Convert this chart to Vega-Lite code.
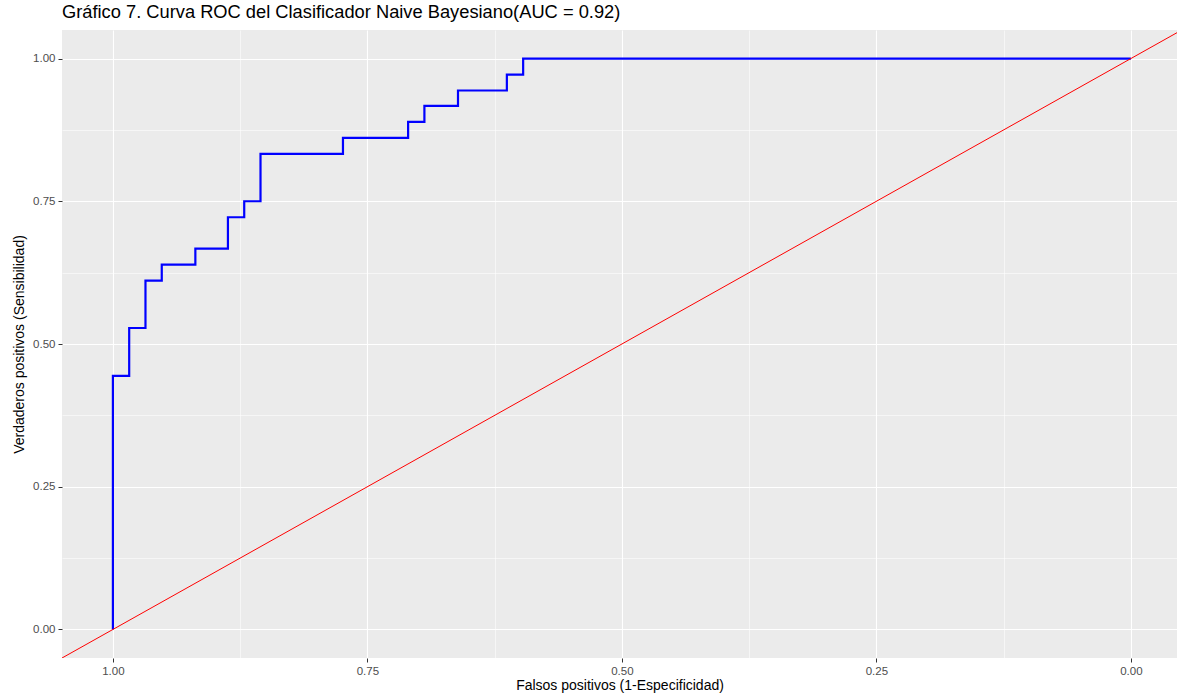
{
  "$schema": "https://vega.github.io/schema/vega-lite/v6.json",
  "autosize": {"type": "none"},
  "width": 1115,
  "height": 628,
  "padding": {"left": 62, "top": 30, "right": 0, "bottom": 40},
  "background": "white",
  "title": {
    "text": "Gráfico 7. Curva ROC del Clasificador Naive Bayesiano(AUC = 0.92)",
    "anchor": "start",
    "frame": "group",
    "font": "Liberation Sans",
    "fontSize": 18.3,
    "fontWeight": "normal",
    "color": "black",
    "offset": 8
  },
  "config": {
    "view": {"fill": "#EBEBEB", "stroke": null},
    "axis": {
      "domain": false,
      "labelFont": "Liberation Sans",
      "titleFont": "Liberation Sans",
      "labelFontSize": 11.5,
      "labelColor": "#4D4D4D",
      "titleFontSize": 14,
      "titleFontWeight": "normal",
      "titleColor": "black",
      "gridColor": "white",
      "tickColor": {"condition": {"test": "datum.value*4 == floor(datum.value*4)", "value": "#333333"}, "value": "transparent"},
      "gridWidth": {"condition": {"test": "datum.value*4 == floor(datum.value*4)", "value": 1.1}, "value": 0.55},
      "tickSize": 4,
      "labelPadding": 3
    }
  },
  "datasets": {
    "roc": [
      {"spec": 1.0, "sens": 0.0, "ord": 1},
      {"spec": 1.0, "sens": 0.444, "ord": 2},
      {"spec": 0.984, "sens": 0.444, "ord": 3},
      {"spec": 0.984, "sens": 0.528, "ord": 4},
      {"spec": 0.968, "sens": 0.528, "ord": 5},
      {"spec": 0.968, "sens": 0.611, "ord": 6},
      {"spec": 0.952, "sens": 0.611, "ord": 7},
      {"spec": 0.952, "sens": 0.639, "ord": 8},
      {"spec": 0.919, "sens": 0.639, "ord": 9},
      {"spec": 0.919, "sens": 0.667, "ord": 10},
      {"spec": 0.887, "sens": 0.667, "ord": 11},
      {"spec": 0.887, "sens": 0.722, "ord": 12},
      {"spec": 0.871, "sens": 0.722, "ord": 13},
      {"spec": 0.871, "sens": 0.75, "ord": 14},
      {"spec": 0.855, "sens": 0.75, "ord": 15},
      {"spec": 0.855, "sens": 0.833, "ord": 16},
      {"spec": 0.774, "sens": 0.833, "ord": 17},
      {"spec": 0.774, "sens": 0.861, "ord": 18},
      {"spec": 0.71, "sens": 0.861, "ord": 19},
      {"spec": 0.71, "sens": 0.889, "ord": 20},
      {"spec": 0.694, "sens": 0.889, "ord": 21},
      {"spec": 0.694, "sens": 0.917, "ord": 22},
      {"spec": 0.661, "sens": 0.917, "ord": 23},
      {"spec": 0.661, "sens": 0.944, "ord": 24},
      {"spec": 0.613, "sens": 0.944, "ord": 25},
      {"spec": 0.613, "sens": 0.972, "ord": 26},
      {"spec": 0.597, "sens": 0.972, "ord": 27},
      {"spec": 0.597, "sens": 1.0, "ord": 28},
      {"spec": 0.0, "sens": 1.0, "ord": 29}
    ],
    "diag": [
      {"spec": 1.05, "sens": -0.05, "ord": 1},
      {"spec": -0.05, "sens": 1.05, "ord": 2}
    ]
  },
  "encoding": {
    "x": {
      "field": "spec",
      "type": "quantitative",
      "scale": {"domain": [1.05, -0.0453], "nice": false, "zero": false},
      "axis": {
        "title": "Falsos positivos (1-Especificidad)",
        "values": [1, 0.875, 0.75, 0.625, 0.5, 0.375, 0.25, 0.125, 0],
        "labelExpr": "datum.value*4 == floor(datum.value*4) ? format(datum.value, '.2f') : ''",
        "titlePadding": 2
      }
    },
    "y": {
      "field": "sens",
      "type": "quantitative",
      "scale": {"domain": [-0.05, 1.05], "nice": false, "zero": false},
      "axis": {
        "title": "Verdaderos positivos (Sensibilidad)",
        "values": [0, 0.125, 0.25, 0.375, 0.5, 0.625, 0.75, 0.875, 1],
        "labelExpr": "datum.value*4 == floor(datum.value*4) ? format(datum.value, '.2f') : ''",
        "titlePadding": 6
      }
    },
    "order": {"field": "ord", "type": "quantitative"}
  },
  "layer": [
    {
      "data": {"name": "roc"},
      "mark": {"type": "line", "color": "#0000FF", "strokeWidth": 2.2, "clip": true}
    },
    {
      "data": {"name": "diag"},
      "mark": {"type": "line", "color": "#FF0000", "strokeWidth": 1, "clip": true}
    }
  ]
}
